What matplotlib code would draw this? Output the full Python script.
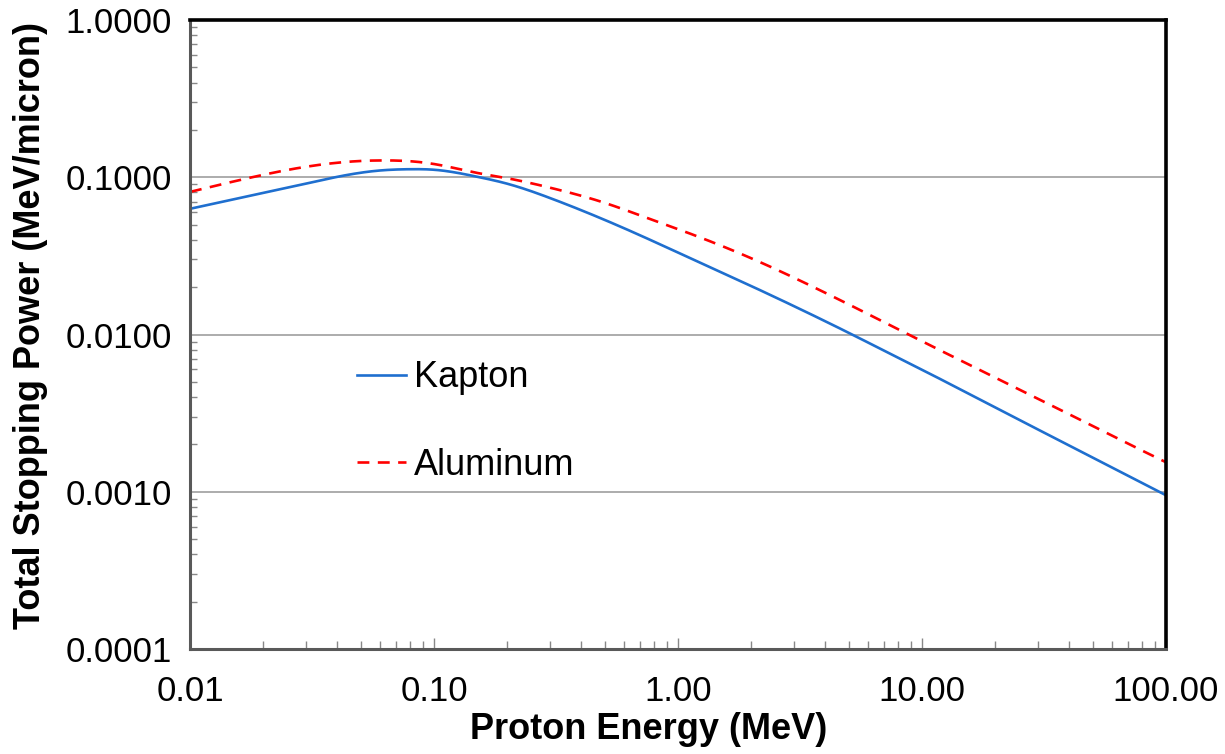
import numpy as np
import matplotlib
matplotlib.use("Agg")
import matplotlib.pyplot as plt
from matplotlib.ticker import LogLocator, StrMethodFormatter, NullFormatter

plt.rcParams["font.family"] = ["Liberation Sans", "DejaVu Sans"]

# Proton energy (MeV) and total stopping power (MeV/micron)
energy = [0.01, 0.015, 0.02, 0.03, 0.04, 0.05, 0.06, 0.08, 0.1, 0.15, 0.2, 0.3,
          0.5, 0.7, 1.0, 2.0, 3.0, 5.0, 7.0, 10.0, 20.0, 30.0, 50.0, 70.0, 100.0]
kapton = [0.063, 0.0723, 0.0797, 0.0912, 0.1005, 0.1068, 0.1104, 0.1125, 0.1116, 0.1008, 0.0909, 0.0736,
          0.0536, 0.0427, 0.0332, 0.0203, 0.0151, 0.01026, 0.00789, 0.00597, 0.00343, 0.00248,
          0.00165, 0.00126, 0.00095]
aluminum = [0.0807, 0.0938, 0.1037, 0.1167, 0.1236, 0.1269, 0.1279, 0.1264, 0.1214, 0.1066, 0.0985, 0.0857,
            0.0688, 0.0572, 0.0468, 0.0305, 0.0229, 0.01556, 0.01197, 0.00906, 0.00531, 0.00389,
            0.00262, 0.00202, 0.00154]

x_ticks = [0.01, 0.1, 1, 10, 100]
y_ticks = [0.0001, 0.001, 0.01, 0.1, 1.0]


# natural cubic spline through the points, done in log-log space
def smooth(xs, ys, n=500):
    lx, ly = np.log10(xs), np.log10(ys)
    k = len(lx)
    h = np.diff(lx)
    A = np.zeros((k, k))
    b = np.zeros(k)
    A[0, 0] = A[-1, -1] = 1
    for i in range(1, k - 1):
        A[i, i - 1] = h[i - 1]
        A[i, i] = 2 * (h[i - 1] + h[i])
        A[i, i + 1] = h[i]
        b[i] = 6 * ((ly[i + 1] - ly[i]) / h[i] - (ly[i] - ly[i - 1]) / h[i - 1])
    M = np.linalg.solve(A, b)
    xf = np.linspace(lx[0], lx[-1], n)
    idx = np.clip(np.searchsorted(lx, xf) - 1, 0, k - 2)
    x0, x1 = lx[idx], lx[idx + 1]
    hh = h[idx]
    yf = (M[idx] * (x1 - xf) ** 3 / (6 * hh) + M[idx + 1] * (xf - x0) ** 3 / (6 * hh)
          + (ly[idx] / hh - M[idx] * hh / 6) * (x1 - xf)
          + (ly[idx + 1] / hh - M[idx + 1] * hh / 6) * (xf - x0))
    return 10 ** xf, 10 ** yf


fig = plt.figure(figsize=(12.25, 7.54), dpi=100)
ax = fig.add_axes([190 / 1225, 1 - 649 / 754, 976 / 1225, 629 / 754])

kx, ky = smooth(energy, kapton)
ax.plot(kx, ky, color="#1f6fcf", lw=1.9, label="Kapton")
axx, ayy = smooth(energy, aluminum)
ax.plot(axx, ayy, color="#ff0000", lw=1.9, linestyle=(0, (4.5, 3.2)), label="Aluminum")

ax.set_xscale("log")
ax.set_yscale("log")
ax.set_xlim(0.01, 100)
ax.set_ylim(0.0001, 1.0)

ax.set_xticks(x_ticks)
ax.set_yticks(y_ticks)
ax.xaxis.set_major_formatter(StrMethodFormatter("{x:.2f}"))
ax.yaxis.set_major_formatter(StrMethodFormatter("{x:.4f}"))
ax.xaxis.set_minor_locator(LogLocator(base=10, subs=np.arange(2, 10), numticks=20))
ax.yaxis.set_minor_locator(LogLocator(base=10, subs=np.arange(2, 10), numticks=20))
ax.xaxis.set_minor_formatter(NullFormatter())
ax.yaxis.set_minor_formatter(NullFormatter())

ax.tick_params(axis="x", which="major", direction="in", length=8, width=1, color="#888888",
               labelsize=25, pad=19, top=False)
ax.tick_params(axis="x", which="minor", direction="in", length=6, width=1, color="#888888", top=False)
ax.tick_params(axis="y", which="major", direction="in", length=0, labelsize=25, pad=13, right=False)
ax.tick_params(axis="y", which="minor", direction="in", length=5, width=1, color="#888888", right=False)

ax.grid(True, which="major", axis="y", color="#a6a6a6", lw=1.3)
ax.grid(False, axis="x")

for side in ["top", "right"]:
    ax.spines[side].set_color("black")
    ax.spines[side].set_linewidth(2.6)
for side in ["left", "bottom"]:
    ax.spines[side].set_color("#595959")
    ax.spines[side].set_linewidth(2.2)

ax.set_xlabel("Proton Energy (MeV)", fontsize=26, fontweight="bold")
ax.set_ylabel("Total Stopping Power (MeV/micron)", fontsize=26, fontweight="bold")
ax.xaxis.set_label_coords(0.47, -0.1)
ax.yaxis.set_label_coords(-0.145, 0.515)

ax.legend(loc="upper left", bbox_to_anchor=(0.171, 0.459), frameon=False, fontsize=26,
          handlelength=1.35, handletextpad=0.22, labelspacing=1.45, borderpad=0, borderaxespad=0)

fig.savefig("out.png", dpi=100)
